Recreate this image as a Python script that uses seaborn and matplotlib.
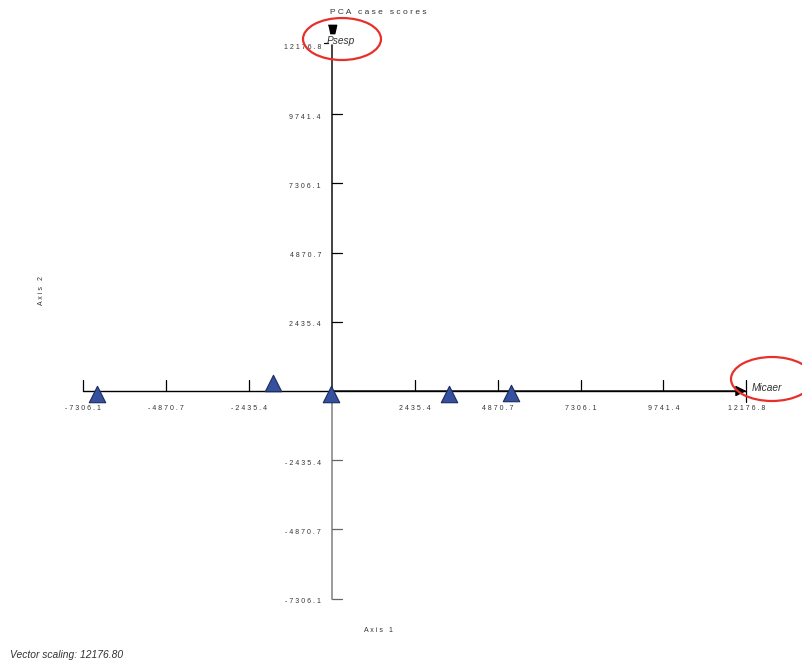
import matplotlib
matplotlib.use("Agg")
import matplotlib.pyplot as plt
import matplotlib.transforms as mtransforms
from matplotlib.patches import Ellipse
import seaborn as sns

sns.set_style("white")
plt.rcParams['font.family'] = ['Liberation Sans', 'DejaVu Sans']

# case scores (axis 1, axis 2)
case_x = [-6912, -1735, -30, 3427, 5265]
case_y = [-123, 281, -123, -105, -53]

# species vectors (scaled)
vec_names = ["Psesp", "Micaer"]
vec_x = [0, 12176.8]
vec_y = [12176.8, 0]

tick_vals = [-7306.1, -4870.7, -2435.4, 2435.4, 4870.7, 7306.1, 9741.4, 12176.8]
tick_text = ["-7306.1", "-4870.7", "-2435.4", "2435.4", "4870.7", "7306.1", "9741.4", "12176.8"]
vector_scaling = "12176.80"

fig = plt.figure(figsize=(8.03, 6.62), dpi=100)
ax = fig.add_axes([0, 0, 1, 1])
ax.set_xlim(-9756, 13841)
ax.set_ylim(-9537, 13760)
ax.axis("off")

px_x = 29.386  # data units per pixel
px_y = 35.19


def spaced(s):
    return " ".join(s)


lo, hi = tick_vals[0], tick_vals[-1]
# axes
ax.plot([lo, hi], [0, 0], color="black", lw=1, zorder=1)
ax.plot([0, 0], [0, hi], color="#222222", lw=1.2, zorder=1)
ax.plot([0, 0], [lo, 0], color="#8a8a8a", lw=1.2, zorder=1)

for v, t in zip(tick_vals, tick_text):
    # axis 1 ticks
    bottom = -11 * px_y if v == hi else 0
    ax.plot([v, v], [bottom, 11 * px_y], color="black", lw=0.9, zorder=1)
    ax.text(v, -18 * px_y, spaced(t), ha="center", va="center", fontsize=5, color="#333333")
    # axis 2 ticks
    if v == hi:
        ax.plot([-8 * px_x, -4 * px_x], [v + 2 * px_y, v + 2 * px_y], color="black", lw=0.9)
    else:
        ax.plot([0, 10 * px_x], [v, v], color="black" if v > 0 else "#666666", lw=0.9, zorder=1)
    ax.text(-11 * px_x, v - 3 * px_y, spaced(t), ha="right", va="center", fontsize=5, color="#333333")

# vectors
ax.annotate("", xy=(vec_x[1], vec_y[1]), xytext=(0, 0),
            arrowprops=dict(arrowstyle="-|>", color="black", lw=1, mutation_scale=16,
                            shrinkA=0, shrinkB=0), zorder=2)
head = mtransforms.offset_copy(ax.transData, fig=fig, x=0, y=16, units="dots")
ax.plot(vec_x[0], vec_y[0], marker=[(-1, 1), (1, 1), (0.55, -1), (-0.55, -1)], ms=6,
        color="black", transform=head)

ax.annotate(vec_names[0], xy=(vec_x[0], vec_y[0]), xytext=(-4, 3), textcoords="offset points",
            fontsize=7.3, style="italic", color="#333333", ha="left", va="center")
ax.annotate(vec_names[1], xy=(vec_x[1], vec_y[1]), xytext=(4, 2.5), textcoords="offset points",
            fontsize=7.3, style="italic", color="#333333", ha="left", va="center")

# case points
sns.scatterplot(x=case_x, y=case_y, marker="^", s=140, color="#34509e",
                edgecolor="#1c2b5c", linewidth=0.8, ax=ax, zorder=3)

# red highlight circles
ax.add_patch(Ellipse((294, 12387), 78 * px_x, 42 * px_y, fill=False, color="#e8302a", lw=1.6, zorder=4))
ax.add_patch(Ellipse((12930, 422), 82 * px_x, 44 * px_y, fill=False, color="#e8302a", lw=1.6, zorder=4))

# labels
ax.text(46 * px_x, -240 * px_y, spaced("Axis 1"), ha="center", va="center", fontsize=5, color="#333333")
ax.text(-290 * px_x, 101 * px_y, spaced("Axis 2"), ha="center", va="center", fontsize=5,
        color="#333333", rotation=90)
fig.text(378 / 803, 1 - 12 / 662, spaced("PCA case scores"), ha="center",
         va="center", fontsize=6, color="#333333")
fig.text(10 / 803, 1 - 655 / 662, "Vector scaling: " + vector_scaling, ha="left", va="center",
         fontsize=7.4, style="italic", color="#333333")

fig.savefig("out.png", dpi=100)
